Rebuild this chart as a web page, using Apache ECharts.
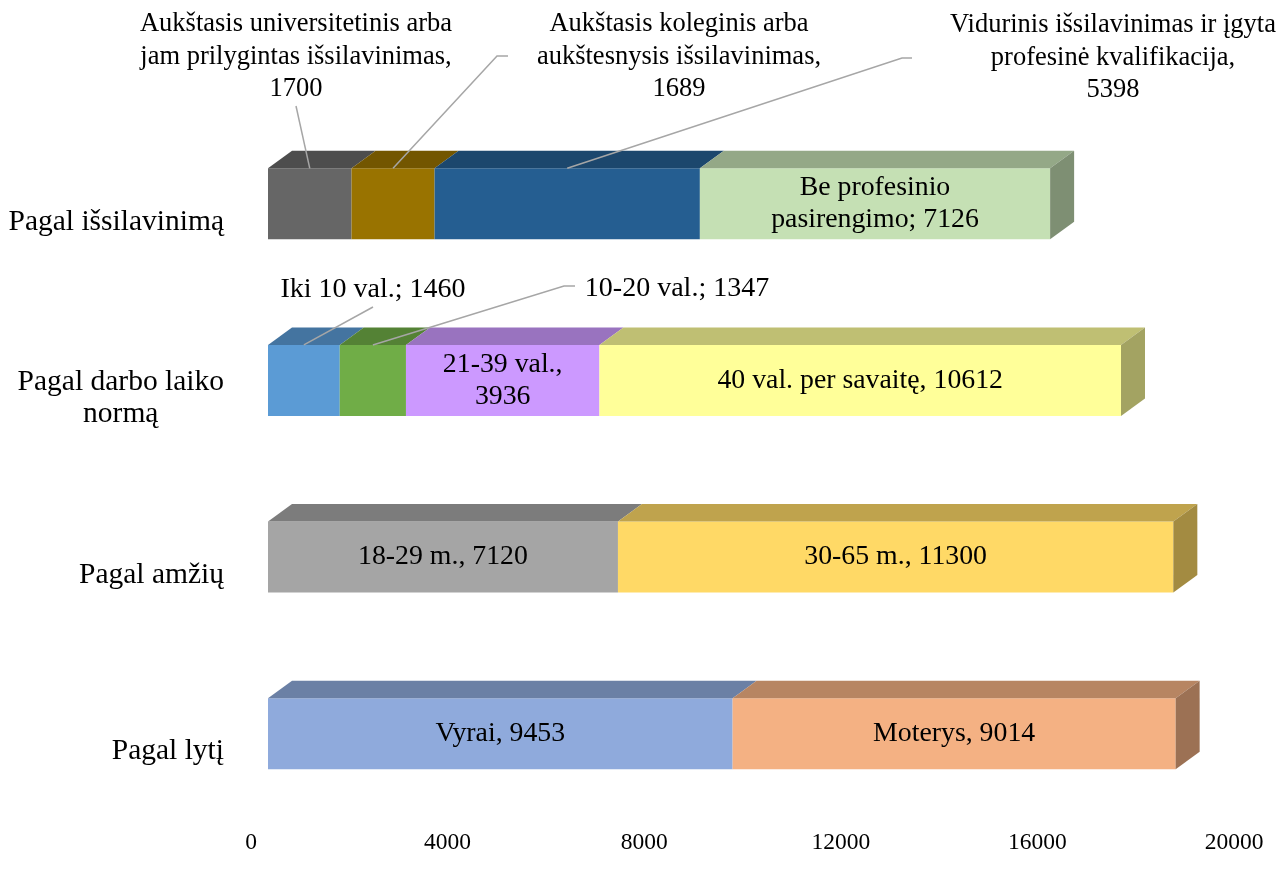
<!DOCTYPE html>
<html>
<head>
<meta charset="utf-8">
<script src="https://cdn.jsdelivr.net/npm/echarts@6/dist/echarts.min.js"></script>
<style>
  html, body { margin: 0; padding: 0; background: #ffffff; }
  #chart { width: 1283px; height: 873px; }
</style>
</head>
<body>
<div id="chart"></div>
<script>
// Row labels, listed bottom to top
const categories = ['Pagal lytį', 'Pagal amžių', 'Pagal darbo laiko\nnormą', 'Pagal išsilavinimą'];

// Pagal lytį
const genderNames = ['Vyrai', 'Moterys'];
const genderValues = [9453, 9014];
const genderSep = [', ', ', '];

// Pagal amžių
const ageNames = ['18-29 m.', '30-65 m.'];
const ageValues = [7120, 11300];
const ageSep = [', ', ', '];

// Pagal darbo laiko normą
const hoursNames = ['Iki 10 val.', '10-20 val.', '21-39 val.', '40 val. per savaitę'];
const hoursValues = [1460, 1347, 3936, 10612];
const hoursSep = ['; ', '; ', ',\n', ', '];

// Pagal išsilavinimą
const eduNames = [
  'Aukštasis universitetinis arba\njam prilygintas išsilavinimas',
  'Aukštasis koleginis arba\naukštesnysis išsilavinimas',
  'Vidurinis išsilavinimas ir įgyta\nprofesinė kvalifikacija',
  'Be profesinio\npasirengimo'
];
const eduValues = [1700, 1689, 5398, 7126];
const eduSep = [',\n', ',\n', ',\n', '; '];

// Value axis ticks
const xTicks = [0, 4000, 8000, 12000, 16000, 20000];

// ---- styling ----
const FONT = '"Liberation Serif", "Times New Roman", serif';
const rowColors = [
  ['#8FAADC', '#F4B183'],
  ['#A5A5A5', '#FFD966'],
  ['#5B9BD5', '#70AD47', '#CC99FF', '#FFFF99'],
  ['#666666', '#997300', '#255E91', '#C5E0B4']
];
const BAR_RATIO = 0.402;   // front face height / band height
const DEPTH_X = 24;        // 3D depth offset
const DEPTH_Y = -17.5;
const TOP_SHADE = 0.75;
const SIDE_SHADE = 0.64;

// Segments whose labels sit outside the bar, with a leader line.
// x/y: label centre; path: leader points from the label towards the bar.
const callouts = {
  '3-0': { x: 296, y: 57, size: 26.5, path: [[296, 106]] },
  '3-1': { x: 679, y: 57, size: 26.5, path: [[508, 56], [497, 56]] },
  '3-2': { x: 1113, y: 58, size: 26.5, path: [[912, 58], [902, 58]] },
  '2-0': { x: 373, y: 290, size: 28, path: [[373, 307]] },
  '2-1': { x: 677, y: 289, size: 28, path: [[575, 286], [564, 286]] }
};

const rows = [
  { names: genderNames, values: genderValues, sep: genderSep },
  { names: ageNames, values: ageValues, sep: ageSep },
  { names: hoursNames, values: hoursValues, sep: hoursSep },
  { names: eduNames, values: eduValues, sep: eduSep }
];

// Stacked segments: [start, end, rowIndex, segmentIndex]
const segments = [];
rows.forEach((row, r) => {
  let acc = 0;
  row.values.forEach((v, s) => {
    segments.push([acc, acc + v, r, s]);
    acc += v;
  });
});

function shade(hex, f) {
  const n = parseInt(hex.slice(1), 16);
  const c = [(n >> 16) & 255, (n >> 8) & 255, n & 255].map(x => Math.round(x * f));
  return 'rgb(' + c.join(',') + ')';
}

function renderItem(params, api) {
  const start = api.value(0), end = api.value(1);
  const r = api.value(2), s = api.value(3);
  const p0 = api.coord([start, r]);
  const p1 = api.coord([end, r]);
  const h = api.size([0, 1])[1] * BAR_RATIO;
  const x0 = p0[0], x1 = p1[0];
  const yT = p0[1] - h / 2, yB = p0[1] + h / 2;
  const row = rows[r];
  const color = rowColors[r][s];
  const isLast = s === row.values.length - 1;
  const children = [];

  children.push({
    type: 'rect',
    shape: { x: x0, y: yT, width: x1 - x0, height: yB - yT },
    style: { fill: color }
  });
  children.push({
    type: 'polygon',
    shape: { points: [[x0, yT], [x1, yT], [x1 + DEPTH_X, yT + DEPTH_Y], [x0 + DEPTH_X, yT + DEPTH_Y]] },
    style: { fill: shade(color, TOP_SHADE) }
  });
  if (isLast) {
    children.push({
      type: 'polygon',
      shape: { points: [[x1, yT], [x1 + DEPTH_X, yT + DEPTH_Y], [x1 + DEPTH_X, yB + DEPTH_Y], [x1, yB]] },
      style: { fill: shade(color, SIDE_SHADE) }
    });
  }

  const text = row.names[s] + row.sep[s] + row.values[s];
  const co = callouts[r + '-' + s];
  if (co) {
    const anchor = [(x0 + x1) / 2, yT];
    children.push({
      type: 'polyline',
      shape: { points: co.path.concat([anchor]) },
      style: { stroke: '#a6a6a6', lineWidth: 1.5, fill: null },
      z2: 20
    });
    children.push({
      type: 'text',
      style: {
        text: text, x: co.x, y: co.y, align: 'center', verticalAlign: 'middle',
        fontFamily: FONT, fontSize: co.size, lineHeight: 32.5, fill: '#000000'
      },
      z2: 20
    });
  } else {
    children.push({
      type: 'text',
      style: {
        text: text, x: (x0 + x1) / 2, y: (yT + yB) / 2, align: 'center', verticalAlign: 'middle',
        fontFamily: FONT, fontSize: 27.8, lineHeight: 32, fill: '#000000'
      },
      z2: 20
    });
  }
  return { type: 'group', children: children };
}

const chart = echarts.init(document.getElementById('chart'), null, { renderer: 'canvas' });
chart.setOption({
  backgroundColor: '#ffffff',
  animation: false,
  grid: { left: 268, width: 983, top: 115.5, bottom: 51, containLabel: false },
  xAxis: {
    type: 'value',
    min: xTicks[0],
    max: xTicks[xTicks.length - 1],
    interval: xTicks[1] - xTicks[0],
    axisLine: { show: false },
    axisTick: { show: false },
    splitLine: { show: false },
    axisLabel: {
      fontFamily: FONT, fontSize: 23.5, color: '#000000', margin: 9,
      padding: [0, 34, 0, 0],
      formatter: v => String(v)
    }
  },
  yAxis: {
    type: 'category',
    data: categories,
    axisLine: { show: false },
    axisTick: { show: false },
    splitLine: { show: false },
    axisLabel: {
      fontFamily: FONT, fontSize: 29.5, color: '#000000', margin: 44,
      lineHeight: 32, padding: [36, 0, 0, 0],
      formatter: v => v.indexOf('\n') < 0 ? v : v.split('\n').map(t => '{c|' + t + '}').join('\n'),
      rich: { c: { align: 'center', fontFamily: FONT, fontSize: 29.5, lineHeight: 32, color: '#000000' } }
    }
  },
  series: [{
    type: 'custom',
    renderItem: renderItem,
    encode: { x: [0, 1], y: 2 },
    data: segments,
    clip: false
  }]
});
</script>
</body>
</html>
